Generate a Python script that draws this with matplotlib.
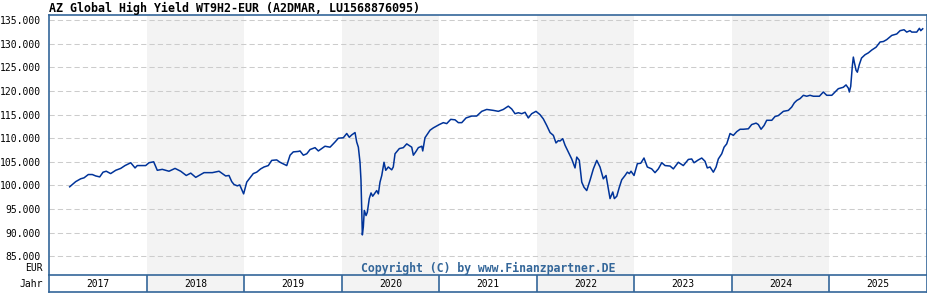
import matplotlib
matplotlib.use("Agg")
import matplotlib.pyplot as plt

title = "AZ Global High Yield WT9H2-EUR (A2DMAR, LU1568876095)"
copyright_text = "Copyright (C) by www.Finanzpartner.DE"
years = [2017, 2018, 2019, 2020, 2021, 2022, 2023, 2024, 2025]
shaded_years = [2018, 2020, 2022, 2024]
y_ticks = [85, 90, 95, 100, 105, 110, 115, 120, 125, 130, 135]

# time in decimal years, value in EUR
t = [2017.212, 2017.274, 2017.325, 2017.359, 2017.403, 2017.444, 2017.479, 2017.520,
     2017.554, 2017.587, 2017.632, 2017.684, 2017.735, 2017.779, 2017.838, 2017.882,
     2017.905, 2017.991, 2018.025, 2018.073, 2018.110, 2018.161, 2018.230, 2018.292,
     2018.350, 2018.407, 2018.453, 2018.504, 2018.589, 2018.674, 2018.743, 2018.811,
     2018.845, 2018.873, 2018.896, 2018.930, 2018.955, 2018.995, 2019.027, 2019.060,
     2019.094, 2019.129, 2019.170, 2019.204, 2019.248, 2019.283, 2019.334, 2019.368,
     2019.419, 2019.437, 2019.471, 2019.504, 2019.556, 2019.573, 2019.607, 2019.642,
     2019.676, 2019.727, 2019.761, 2019.829, 2019.881, 2019.932, 2019.966, 2020.017,
     2020.052, 2020.078, 2020.103, 2020.137, 2020.154, 2020.171, 2020.188, 2020.198,
     2020.206, 2020.212, 2020.222, 2020.232, 2020.250, 2020.263, 2020.283, 2020.301,
     2020.318, 2020.359, 2020.376, 2020.393, 2020.411, 2020.434, 2020.452, 2020.478,
     2020.513, 2020.529, 2020.547, 2020.591, 2020.632, 2020.667, 2020.718, 2020.735,
     2020.762, 2020.786, 2020.821, 2020.831, 2020.854, 2020.906, 2020.940, 2021.001,
     2021.042, 2021.077, 2021.118, 2021.162, 2021.196, 2021.231, 2021.275, 2021.333,
     2021.384, 2021.436, 2021.487, 2021.555, 2021.606, 2021.657, 2021.708, 2021.743,
     2021.777, 2021.811, 2021.846, 2021.880, 2021.913, 2021.948, 2021.992, 2022.033,
     2022.067, 2022.102, 2022.136, 2022.170, 2022.197, 2022.221, 2022.238, 2022.266,
     2022.290, 2022.323, 2022.358, 2022.392, 2022.410, 2022.436, 2022.461, 2022.484,
     2022.512, 2022.546, 2022.580, 2022.615, 2022.648, 2022.682, 2022.710, 2022.734,
     2022.751, 2022.779, 2022.795, 2022.820, 2022.846, 2022.871, 2022.905, 2022.928,
     2022.949, 2022.966, 2022.997, 2023.031, 2023.066, 2023.099, 2023.133, 2023.178,
     2023.212, 2023.246, 2023.281, 2023.315, 2023.366, 2023.400, 2023.451, 2023.502,
     2023.554, 2023.588, 2023.612, 2023.656, 2023.691, 2023.725, 2023.748, 2023.776,
     2023.810, 2023.838, 2023.861, 2023.896, 2023.920, 2023.947, 2023.981, 2024.015,
     2024.050, 2024.084, 2024.117, 2024.169, 2024.203, 2024.248, 2024.271, 2024.299,
     2024.330, 2024.357, 2024.409, 2024.442, 2024.476, 2024.528, 2024.579, 2024.613,
     2024.640, 2024.665, 2024.699, 2024.733, 2024.767, 2024.801, 2024.835, 2024.897,
     2024.937, 2024.972, 2025.024, 2025.058, 2025.091, 2025.142, 2025.170, 2025.194,
     2025.204, 2025.218, 2025.235, 2025.245, 2025.255, 2025.273, 2025.286, 2025.306,
     2025.329, 2025.365, 2025.399, 2025.434, 2025.478, 2025.519, 2025.553, 2025.587,
     2025.639, 2025.690, 2025.724, 2025.765, 2025.792, 2025.826, 2025.844, 2025.895,
     2025.922, 2025.936, 2025.956]
v = [99.7, 100.8, 101.4, 101.6, 102.3, 102.3, 102.0, 101.8,
     102.8, 103.0, 102.5, 103.2, 103.6, 104.2, 104.8, 103.7,
     104.2, 104.2, 104.8, 105.0, 103.2, 103.4, 103.0, 103.6,
     103.0, 102.1, 102.6, 101.7, 102.7, 102.7, 103.0, 102.0,
     102.1, 100.8, 100.2, 99.9, 100.1, 98.2, 100.7, 101.6,
     102.5, 102.8, 103.5, 103.9, 104.2, 105.3, 105.4, 104.9,
     104.4, 104.2, 106.4, 107.1, 107.2, 107.3, 106.4, 106.7,
     107.6, 108.0, 107.3, 108.3, 108.1, 109.2, 110.0, 110.1,
     111.0, 110.2, 110.7, 111.2, 109.2, 108.1, 104.9, 101.1,
     94.7, 89.5, 91.2, 94.7, 93.6, 94.3, 97.2, 98.4,
     97.7, 98.9, 98.2, 100.7, 102.1, 104.9, 103.2, 103.9,
     103.3, 103.9, 106.7, 107.8, 108.0, 108.8, 108.1, 106.4,
     107.2, 108.0, 108.3, 107.3, 110.1, 111.7, 112.2, 112.9,
     113.3, 113.1, 114.0, 113.9, 113.3, 113.3, 114.3, 114.7,
     114.7, 115.7, 116.1, 115.9, 115.7, 116.1, 116.8, 116.2,
     115.2, 115.4, 115.2, 115.5, 114.3, 115.2, 115.7, 115.0,
     114.1, 112.7, 111.2, 110.6, 109.0, 109.5, 109.4, 109.9,
     108.5, 107.1, 105.6, 103.7, 106.0, 105.3, 100.7, 99.6,
     98.9, 101.1, 103.5, 105.3, 103.9, 101.4, 102.1, 99.3,
     97.2, 98.6, 97.2, 97.7, 99.6, 101.2, 102.1, 102.8,
     102.5, 103.0, 102.1, 104.6, 104.7, 105.8, 103.9, 103.5,
     102.7, 103.5, 104.8, 104.2, 104.1, 103.5, 104.9, 104.2,
     105.5, 105.6, 104.8, 105.4, 105.8, 105.1, 103.7, 103.9,
     102.8, 103.9, 105.6, 106.7, 108.1, 108.8, 111.0, 110.6,
     111.4, 111.9, 111.9, 112.0, 112.9, 113.2, 112.9, 111.9,
     112.7, 113.8, 113.8, 114.6, 114.8, 115.7, 115.9, 116.6,
     117.5, 118.0, 118.4, 119.1, 118.9, 119.1, 118.9, 118.9,
     119.8, 119.1, 119.1, 119.8, 120.5, 120.8, 121.3, 120.6,
     119.8, 121.0, 125.4, 127.2, 126.1, 124.4, 124.0, 125.6,
     127.0, 127.7, 128.1, 128.7, 129.3, 130.4, 130.5, 130.9,
     131.8, 132.1, 132.8, 133.0, 132.5, 132.8, 132.5, 132.5,
     133.3, 132.8, 133.2]

FRAME = "#336699"
SHADE = "#f3f3f3"
LINE = "#003399"
MONO = "DejaVu Sans Mono"

W, H = 928, 300
fig = plt.figure(figsize=(W / 100, H / 100), dpi=100)
fig.patch.set_facecolor("white")

x0, x1 = 49, 927
ax = fig.add_axes([x0 / W, 25 / H, (x1 - x0) / W, 259.7 / H])
ax.set_xlim(2017, 2026)
ax.set_ylim(81.0, 136.06)

for yr in shaded_years:
    ax.axvspan(yr, yr + 1, color=SHADE, lw=0, zorder=0)
for yt in y_ticks:
    ax.axhline(yt, color="#cccccc", lw=0.75, dashes=(5, 3), zorder=1)

ax.plot(t, v, color=LINE, lw=1.1, zorder=3)

ax.set_yticks(y_ticks)
ax.set_yticklabels([f"{y:.3f}" for y in y_ticks], fontfamily=MONO, fontsize=7.0)
ax.tick_params(axis="y", length=0, pad=6)
ax.set_xticks([])
for side in ["left", "top", "right"]:
    ax.spines[side].set_color(FRAME)
    ax.spines[side].set_linewidth(1.2)
ax.spines["bottom"].set_visible(False)

ax.text(0.5, 7 / 259.7, copyright_text, transform=ax.transAxes,
        ha="center", va="center", fontfamily=MONO, fontsize=8.3,
        fontweight="bold", color=FRAME, zorder=4)

# year band
bx = fig.add_axes([x0 / W, 8 / H, (x1 - x0) / W, 17 / H])
bx.set_xlim(2017, 2026)
bx.set_ylim(0, 1)
for yr in shaded_years:
    bx.axvspan(yr, yr + 1, color=SHADE, lw=0, zorder=0)
for yr in years[1:]:
    bx.axvline(yr, color=FRAME, lw=1.2)
for yr in years:
    bx.text(yr + 0.5, 0.45, str(yr), ha="center", va="center",
            fontfamily=MONO, fontsize=6.9)
bx.set_xticks([])
bx.set_yticks([])
for s in bx.spines.values():
    s.set_color(FRAME)
    s.set_linewidth(1.2)

fig.text(49 / W, 1 - 8 / H, title, ha="left", va="center",
         fontfamily=MONO, fontsize=8.4, fontweight="bold")
fig.text(43 / W, 1 - 268 / H, "EUR", ha="right", va="center",
         fontfamily=MONO, fontsize=7.0)
fig.text(43 / W, 1 - 284 / H, "Jahr", ha="right", va="center",
         fontfamily=MONO, fontsize=7.0)

fig.savefig("out.png", dpi=100, facecolor="white")
